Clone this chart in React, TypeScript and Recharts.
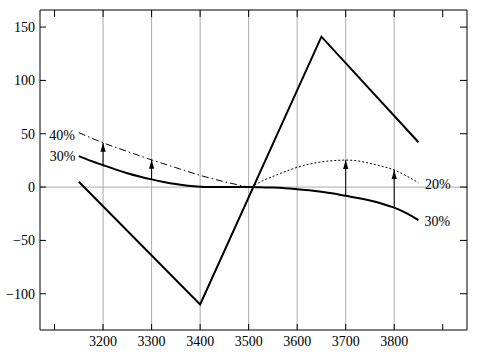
import React from 'react';
import { ComposedChart, Line, XAxis, YAxis, ReferenceLine } from 'recharts';

// ---- data ----
const payoffX = [3150, 3400, 3650, 3850];
const payoffY = [5, -110, 141, 42];

const curve30X = [3150, 3175, 3200, 3225, 3250, 3275, 3300, 3325, 3350, 3375, 3400, 3425, 3450, 3475, 3500, 3525, 3550, 3575, 3600, 3625, 3650, 3675, 3700, 3725, 3750, 3775, 3800, 3825, 3850];
const curve30Y = [29, 24.5, 20.5, 16.6, 13, 9.9, 7.2, 4.8, 2.8, 1.3, 0.4, 0.1, 0, 0, 0, -0.1, -0.5, -1.1, -2, -3, -4.4, -6.1, -8.2, -10.2, -12.6, -15.6, -19.3, -24.4, -31];

const curve40X = [3150, 3200, 3250, 3300, 3350, 3400, 3450, 3500];
const curve40Y = [51, 41.5, 33.4, 25.5, 18.2, 11, 5, 0];

const curve20X = [3505, 3525, 3550, 3575, 3600, 3625, 3650, 3675, 3700, 3725, 3750, 3775, 3800, 3825, 3850];
const curve20Y = [0, 5, 10, 14.5, 18.5, 21.5, 23.6, 24.8, 25.3, 24.5, 22.2, 19.5, 16, 10.5, 4];

const arrowX = [3200, 3300, 3700, 3800];
const arrowFrom = [20.5, 7.2, -8.2, -19.3];
const arrowTo = [41.5, 25.5, 25.3, 16];

const xTicks = [3100, 3200, 3300, 3400, 3500, 3600, 3700, 3800, 3900];
const xLabelled = [3200, 3300, 3400, 3500, 3600, 3700, 3800];
const yTicks = [-100, -50, 0, 50, 100, 150];
const gridX = [3200, 3300, 3400, 3500, 3600, 3700, 3800];
const gridY = [0];

const X_DOMAIN: [number, number] = [3070, 3950];
const Y_DOMAIN: [number, number] = [-134, 166];

const FONT = 'Liberation Serif';
const FS = 14;

const zip = (xs: number[], ys: number[]) => xs.map((x, i) => ({ x, y: ys[i] }));

const payoffData = zip(payoffX, payoffY);
const c30Data = zip(curve30X, curve30Y);
const c40Data = zip(curve40X, curve40Y);
const c20Data = zip(curve20X, curve20Y);
const arrowsData = arrowX.map((x, i) => [
  { x, y: arrowFrom[i] },
  { x, y: arrowTo[i] },
]);

const fmtY = (v: number) => (v < 0 ? '\u2212' + Math.abs(v) : String(v));
const fmtX = (v: number) => (xLabelled.includes(v) ? String(v) : '');

const makeLabel = (text: string, which: 'first' | 'last', dx: number, dy: number, n: number) =>
  (props: any) => {
    const { x, y, index } = props;
    const want = which === 'first' ? 0 : n - 1;
    if (index !== want) return null;
    return (
      <text
        key={'lbl' + text + which}
        x={x + dx}
        y={y + dy}
        textAnchor={which === 'first' ? 'end' : 'start'}
        style={{ fontFamily: FONT, fontSize: FS }}
        fill="#000"
      >
        {text}
      </text>
    );
  };

const arrowDot = (props: any) => {
  const { cx, cy, index, key } = props;
  if (index !== 1 || cx == null || cy == null) return <g key={key ?? 'd' + index} />;
  const pts = `${cx},${cy} ${cx - 2.6},${cy + 9} ${cx + 2.6},${cy + 9}`;
  return <polygon key={key ?? 'd' + index} points={pts} fill="#000" stroke="none" />;
};

const tickStyle = { fontFamily: FONT, fontSize: FS, fill: '#000' };

export default function App() {
  return (
    <div style={{ position: 'fixed', left: 0, top: 0, background: '#fff' }}>
      <ComposedChart width={487} height={356} margin={{ top: 9, right: 19, bottom: 0, left: 0 }}>
        <XAxis
          dataKey="x"
          type="number"
          domain={X_DOMAIN}
          ticks={xTicks}
          tickFormatter={fmtX}
          allowDataOverflow
          height={26}
          tickSize={-6}
          tickMargin={12}
          interval={0}
          stroke="#000"
          tick={tickStyle}
        />
        <XAxis
          xAxisId="top"
          orientation="top"
          dataKey="x"
          type="number"
          domain={X_DOMAIN}
          ticks={xTicks}
          allowDataOverflow
          height={1}
          tickSize={-7}
          tickFormatter={() => ''}
          interval={0}
          stroke="#000"
        />
        <YAxis
          type="number"
          domain={Y_DOMAIN}
          ticks={yTicks}
          tickFormatter={fmtY}
          allowDataOverflow
          width={40}
          tickSize={-6}
          tickMargin={11}
          interval={0}
          stroke="#000"
          tick={tickStyle}
        />
        <YAxis
          yAxisId="right"
          orientation="right"
          type="number"
          domain={Y_DOMAIN}
          ticks={yTicks}
          allowDataOverflow
          width={1}
          tickSize={-7}
          tickFormatter={() => ''}
          interval={0}
          stroke="#000"
        />
        {gridX.map((g) => (
          <ReferenceLine key={'gx' + g} x={g} stroke="#aaaaaa" strokeWidth={1} />
        ))}
        {gridY.map((g) => (
          <ReferenceLine key={'gy' + g} y={g} stroke="#aaaaaa" strokeWidth={1} />
        ))}
        {arrowsData.map((d, i) => (
          <Line
            key={'arrow' + i}
            data={d}
            dataKey="y"
            type="linear"
            stroke="#000"
            strokeWidth={1}
            dot={arrowDot}
            activeDot={false}
            isAnimationActive={false}
          />
        ))}
        <Line
          data={c40Data}
          dataKey="y"
          type="monotone"
          stroke="#000"
          strokeWidth={1}
          strokeDasharray="7 3 1.5 3"
          dot={false}
          activeDot={false}
          isAnimationActive={false}
          label={makeLabel('40%', 'first', -4, 7, c40Data.length)}
        />
        <Line
          data={c20Data}
          dataKey="y"
          type="monotone"
          stroke="#000"
          strokeWidth={1}
          strokeDasharray="2 2"
          dot={false}
          activeDot={false}
          isAnimationActive={false}
          label={makeLabel('20%', 'last', 6.5, 6, c20Data.length)}
        />
        <Line
          data={c30Data}
          dataKey="y"
          type="monotone"
          stroke="#000"
          strokeWidth={2}
          dot={false}
          activeDot={false}
          isAnimationActive={false}
          label={(props: any) => {
            const { index } = props;
            if (index === 0) return makeLabel('30%', 'first', -3.5, 4.5, c30Data.length)(props);
            if (index === c30Data.length - 1) return makeLabel('30%', 'last', 6, 6, c30Data.length)(props);
            return null;
          }}
        />
        <Line
          data={payoffData}
          dataKey="y"
          type="linear"
          stroke="#000"
          strokeWidth={2}
          dot={false}
          activeDot={false}
          isAnimationActive={false}
        />
      </ComposedChart>
    </div>
  );
}
